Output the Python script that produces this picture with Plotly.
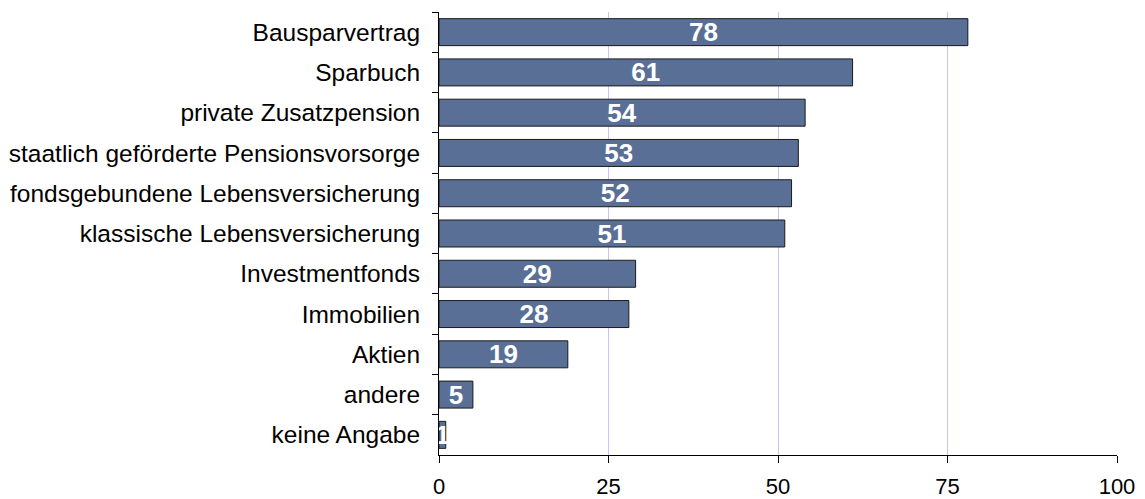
import plotly.graph_objects as go

categories = ["Bausparvertrag", "Sparbuch", "private Zusatzpension",
              "staatlich geförderte Pensionsvorsorge", "fondsgebundene Lebensversicherung",
              "klassische Lebensversicherung", "Investmentfonds", "Immobilien",
              "Aktien", "andere", "keine Angabe"]
values = [78, 61, 54, 53, 52, 51, 29, 28, 19, 5, 1]
x_ticks = [0, 25, 50, 75, 100]

FONT = "Liberation Sans, Arial, sans-serif"

fig = go.Figure(go.Bar(
    x=values, y=categories, orientation="h",
    marker=dict(color="#5a6f96", line=dict(color="#1a1a1a", width=1)),
    text=[str(v) for v in values], textposition="inside", insidetextanchor="middle",
    textangle=0, constraintext="none",
    textfont=dict(family=FONT, size=26, color="white", weight="bold"),
    cliponaxis=False,
))

# page body has an 8px margin, so the figure is sized/offset to compensate
fig.update_layout(
    width=1137, height=491,
    margin=dict(l=431, r=28, t=4, b=44),
    plot_bgcolor="white", paper_bgcolor="white",
    bargap=0.33, showlegend=False,
    font=dict(family=FONT, size=24, color="black"),
)
fig.update_xaxes(range=[0, 100], tickvals=x_ticks, showgrid=True, gridcolor="#c4c4fa", gridwidth=1,
                 showline=True, linecolor="black", linewidth=1, ticks="outside", ticklen=7,
                 tickcolor="black", zeroline=False, ticklabelstandoff=5, automargin=False,
                 tickfont=dict(size=22))
fig.update_yaxes(autorange="reversed", showline=True, linecolor="black", linewidth=1,
                 ticks="outside", tickson="boundaries", ticklen=6, tickcolor="black",
                 showgrid=False, ticklabelstandoff=13, automargin=False,
                 tickfont=dict(size=24.5))

fig.write_html("out.html")
